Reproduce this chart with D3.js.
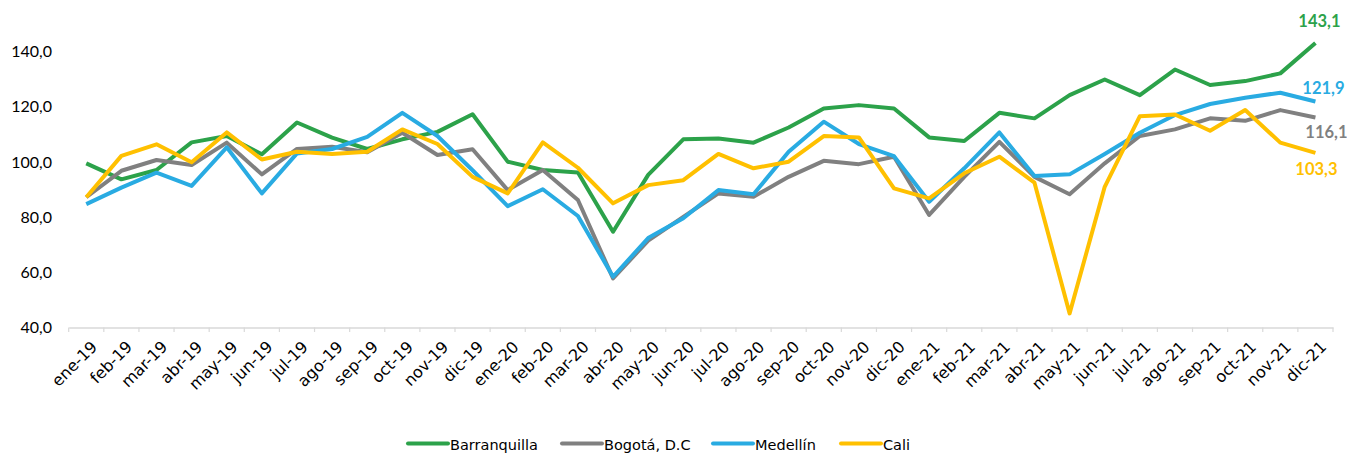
<!DOCTYPE html>
<html><head><meta charset="utf-8">
<script src="https://cdn.jsdelivr.net/npm/d3@7"></script>
<style>body{margin:0;background:#fff}</style>
</head><body><svg id="c" width="1347" height="454"></svg>
<script>
const months = ["ene-19","feb-19","mar-19","abr-19","may-19","jun-19","jul-19","ago-19","sep-19","oct-19","nov-19","dic-19",
"ene-20","feb-20","mar-20","abr-20","may-20","jun-20","jul-20","ago-20","sep-20","oct-20","nov-20","dic-20",
"ene-21","feb-21","mar-21","abr-21","may-21","jun-21","jul-21","ago-21","sep-21","oct-21","nov-21","dic-21"];
const barranquilla = [99.5,93.7,97.1,107.1,109.4,102.8,114.3,108.8,104.7,108.2,110.9,117.3,
100.1,97.1,96.2,74.7,95.3,108.2,108.5,107.0,112.5,119.4,120.6,119.4,
108.9,107.6,117.8,115.8,124.2,129.9,124.2,133.5,127.9,129.3,132.1,143.1];
const bogota = [87.2,96.8,100.7,98.9,107.0,95.5,104.7,105.5,103.5,110.6,102.5,104.6,
89.8,97.1,86.2,57.8,71.5,80.1,88.6,87.4,94.6,100.4,99.2,101.9,
80.8,94.6,107.3,94.6,88.3,99.5,109.4,111.8,115.8,114.9,118.8,116.1];
const medellin = [84.7,90.7,96.1,91.3,105.3,88.6,103.1,104.7,109.1,117.8,109.4,97.0,
84.0,90.1,80.4,58.4,72.4,79.6,89.8,88.3,103.7,114.6,106.5,102.1,
85.6,97.7,110.7,94.9,95.5,102.9,110.6,117.0,121.0,123.3,125.1,121.9];
const cali = [87.2,102.2,106.4,99.9,110.7,100.9,103.7,102.9,103.7,111.8,106.5,94.6,
88.6,107.1,97.9,85.0,91.6,93.4,102.9,97.7,100.1,109.4,108.9,90.4,
86.8,95.9,101.9,92.5,45.1,91.0,116.6,117.2,111.3,118.8,107.0,103.3];
const yTicks = [40,60,80,100,120,140];
const seriesNames = ["Barranquilla","Bogotá, D.C","Medellín","Cali"];
const seriesValues = [barranquilla,bogota,medellin,cali];
const colors = ["#2ca24a","#808080","#29abe2","#ffc000"];
const endLabels = ["143,1","116,1","121,9","103,3"];

const svg = d3.select("#c");
const x = d3.scaleBand().domain(months).range([68.7,1333]);
const y = d3.scaleLinear().domain([40,150]).range([327.5,24]);
const fmt = v => d3.format(".1f")(v).replace(".",",");

// y axis labels
svg.append("g").selectAll("text").data(yTicks).join("text")
  .attr("x",52).attr("y",d=>y(d)).attr("dy","0.35em").attr("text-anchor","end")
  .style("font-family","Lato").style("font-size","16px").attr("fill","#000").text(fmt);

// x axis
const xa = svg.append("g").attr("transform","translate(0,327.5)")
  .call(d3.axisBottom(x).tickSize(0).tickFormat(""));
xa.select(".domain").attr("stroke","#d9d9d9").attr("stroke-width",1.5);
svg.append("g").selectAll("line").data(months.concat(["_end"])).join("line")
  .attr("x1",(d,i)=>x.range()[0]+i*x.step()).attr("x2",(d,i)=>x.range()[0]+i*x.step())
  .attr("y1",327.5).attr("y2",332).attr("stroke","#d9d9d9").attr("stroke-width",1.2);
svg.append("g").selectAll("text").data(months).join("text")
  .attr("transform",d=>`translate(${x(d)+x.bandwidth()/2+4},340) rotate(-45)`)
  .attr("text-anchor","end").attr("dy","0.7em")
  .style("font-family","DejaVu Sans").style("font-size","16px").attr("fill","#000").text(d=>d);

// lines
const line = d3.line().x((d,i)=>x(months[i])+x.bandwidth()/2).y(d=>y(d));
seriesValues.forEach((vals,k)=>{
  svg.append("path").datum(vals).attr("d",line).attr("fill","none")
    .attr("stroke",colors[k]).attr("stroke-width",4).attr("stroke-linejoin","round");
});

// end labels
const lastX = x(months[months.length-1])+x.bandwidth()/2;
const endPos = [[lastX+4,27],[lastX+11,138],[lastX+8,94],[lastX+1,175]];
[0,1,2,3].forEach(k=>{
  svg.append("text").attr("x",endPos[k][0]).attr("y",endPos[k][1]).attr("text-anchor","middle")
    .style("font-family","Lato").style("font-size","16.5px").style("font-weight","bold")
    .attr("fill",colors[k]).text(endLabels[k]);
});

// legend
const legX = [408,562,713,841];
const lg = svg.append("g");
seriesNames.forEach((n,k)=>{
  lg.append("line").attr("x1",legX[k]).attr("x2",legX[k]+40).attr("y1",443.5).attr("y2",443.5)
    .attr("stroke",colors[k]).attr("stroke-width",4).attr("stroke-linecap","round");
  lg.append("text").attr("x",legX[k]+42).attr("y",449.5)
    .style("font-family","DejaVu Sans").style("font-size","14.5px").attr("fill","#000").text(n);
});
</script></body></html>
